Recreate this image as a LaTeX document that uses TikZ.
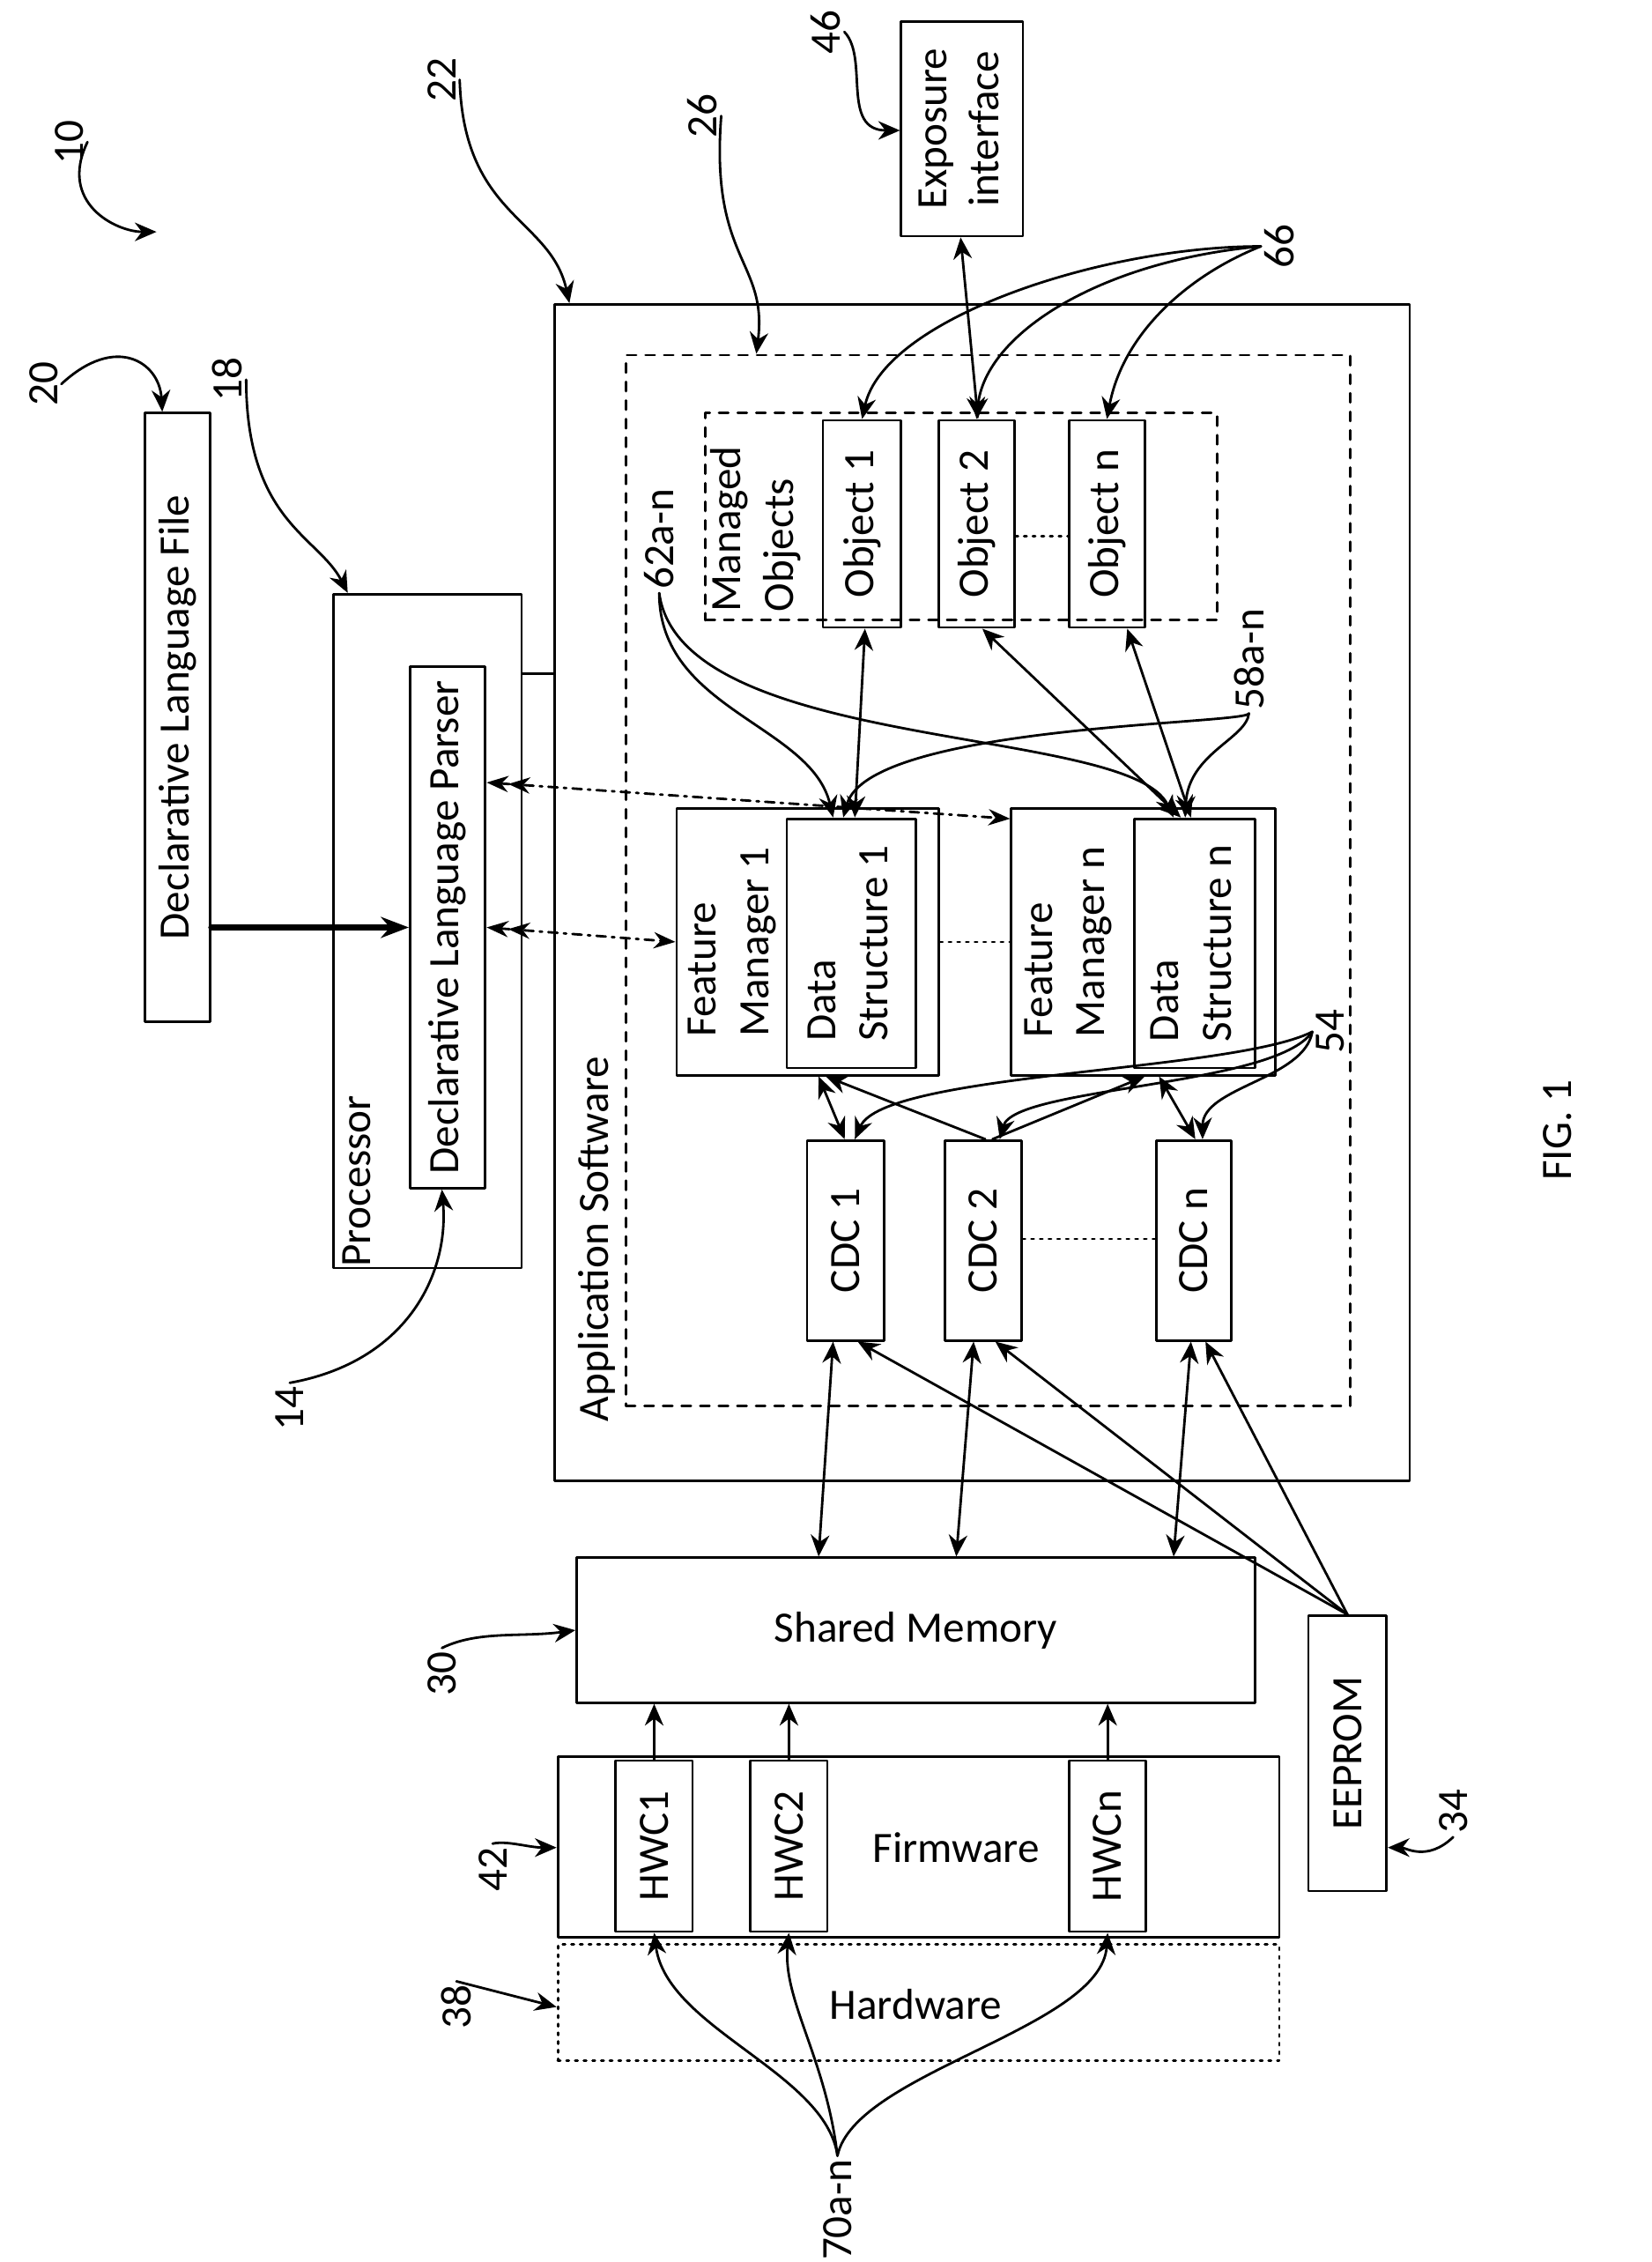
\documentclass[tikz,border=0pt]{standalone}
\usepackage{fontspec}
\setmainfont{Carlito}
\usetikzlibrary{arrows.meta,calc}
\tikzset{
  box/.style={draw,thick,inner sep=0pt,font=\fontsize{14}{17}\selectfont},
  lbl/.style={font=\fontsize{14}{17}\selectfont,inner sep=1pt},
  arr/.style={thick,-{Stealth[length=7pt,width=6pt]}},
  darr/.style={thick,{Stealth[length=7pt,width=6pt]}-{Stealth[length=7pt,width=6pt]}},
  dots/.style={thick,dotted},
}
% box from corner to corner, text turned
\newcommand\rbox[7][]{\node[box,#1,minimum width={(#5-#3)*0.01645cm},minimum height={(#6-#4)*0.01645cm}] (#2) at ({(#3+#5)/2},{(#4+#6)/2}) {\rotatebox{90}{#7}};}
\newcommand\flatbox[7][]{\node[box,#1,minimum width={(#5-#3)*0.01645cm},minimum height={(#6-#4)*0.01645cm}] (#2) at ({(#3+#5)/2},{(#4+#6)/2}) {#7};}
\newcommand\rt[1]{\rotatebox{90}{#1}}
\begin{document}
\begin{tikzpicture}[x=0.01645cm,y=-0.01645cm,line join=round,line cap=round]
\useasboundingbox (0,0) rectangle (1140,1561);
% boxes
\rbox{dlf}{100}{285}{145}{705}{Declarative Language File}
\rbox{proc}{230}{410}{360}{875}{}
\rbox{dlp}{283}{460}{335}{820}{Declarative Language Parser}
\node[lbl] (proclbl) at (246,815) {\rt{Processor}};
\rbox{app}{383}{210}{973}{1022}{}
\node[lbl] (applbl) at (412,855) {\rt{Application Software}};
\rbox[dashed]{inner}{432}{245}{932}{970}{}
\rbox[dashed]{mo}{487}{285}{840}{428}{}
\node[lbl] (molbl) at (522,365) {\rt{\begin{tabular}{@{}l@{}}Managed\\Objects\end{tabular}}};
\rbox{obj1}{568}{290}{622}{433}{Object 1}
\rbox{obj2}{648}{290}{700}{433}{Object 2}
\rbox{objn}{738}{290}{790}{433}{Object n}
\rbox{fm1}{467}{558}{648}{742}{}
\rbox{ds1}{543}{565}{632}{737}{\begin{tabular}{@{}l@{}}Data\\Structure 1\end{tabular}}
\node[lbl] (fm1lbl) at (505,650) {\rt{\begin{tabular}{@{}l@{}}Feature\\Manager 1\end{tabular}}};
\rbox{fmn}{698}{558}{880}{742}{}
\rbox{dsn}{783}{565}{866}{737}{\begin{tabular}{@{}l@{}}Data\\Structure n\end{tabular}}
\node[lbl] (fmnlbl) at (737,650) {\rt{\begin{tabular}{@{}l@{}}Feature\\Manager n\end{tabular}}};
\rbox{cdc1}{557}{787}{610}{925}{CDC 1}
\rbox{cdc2}{652}{787}{705}{925}{CDC 2}
\rbox{cdcn}{798}{787}{850}{925}{CDC n}
\flatbox{shm}{398}{1075}{866}{1175}{Shared Memory}
\rbox{fw}{385}{1212}{883}{1337}{}
\node[lbl] (fwlbl) at (660,1275) {Firmware};
\rbox[dotted]{hw}{385}{1342}{883}{1422}{}
\node[lbl] (hwlbl) at (632,1383) {Hardware};
\rbox{hwc1}{425}{1215}{478}{1333}{HWC1}
\rbox{hwc2}{518}{1215}{571}{1333}{HWC2}
\rbox{hwcn}{738}{1215}{791}{1333}{HWCn}
\rbox{eep}{903}{1115}{957}{1305}{EEPROM}
\rbox{expo}{622}{15}{706}{163}{\begin{tabular}{@{}c@{}}Exposure\\interface\end{tabular}}
% links
\draw[line width=2pt,-{Stealth[length=9pt]}] (dlf.east|-0,640) -- (dlp.west|-0,640);
\draw[thick] (proc.east|-0,465) -- (app.west|-0,465);
\draw[darr] (expo.south-|663,0) -- (obj2.north-|675,0);
\draw[darr] (obj1.south-|597,0) -- (ds1.north-|590,0);
\draw[darr] (obj2.south-|678,0) -- (dsn.north-|815,0);
\draw[darr] (objn.south-|778,0) -- (dsn.north-|822,0);
\draw[darr] (cdc1.north-|583,0) -- (fm1.south-|565,0);
\draw[arr] (cdc2.north-|680,0) -- (fm1.south-|570,0);
\draw[arr] (cdc2.north-|685,0) -- (fmn.south-|790,0);
\draw[darr] (cdcn.north-|825,0) -- (fmn.south-|800,0);
\draw[darr] (shm.north-|565,0) -- (cdc1.south-|575,0);
\draw[darr] (shm.north-|660,0) -- (cdc2.south-|672,0);
\draw[darr] (shm.north-|810,0) -- (cdcn.south-|822,0);
\draw[arr] (eep.north-|930,0) -- (cdc1.south-|592,0);
\draw[arr] (eep.north-|930,0) -- (cdc2.south-|687,0);
\draw[arr] (eep.north-|930,0) -- (cdcn.south-|832,0);
\draw[arr] (hwc1.north) -- (hwc1.north|-shm.south);
\draw[arr] (hwc2.north) -- (hwc2.north|-shm.south);
\draw[arr] (hwcn.north) -- (hwcn.north|-shm.south);
\draw[thick,dash dot,{Stealth[length=7pt]Stealth[length=7pt]}-{Stealth[length=7pt]}] (dlp.east|-0,540) -- (fmn.west|-0,565);
\draw[thick,dash dot,{Stealth[length=7pt]Stealth[length=7pt]}-{Stealth[length=7pt]}] (dlp.east|-0,640) -- (fm1.west|-0,650);
% dotted joins
\draw[dots] (obj2.east|-0,370) -- (objn.west|-0,370);
\draw[dots] (fm1.east|-0,650) -- (fmn.west|-0,650);
\draw[dots] (cdc2.east|-0,855) -- (cdcn.west|-0,855);
% numerals
\node[lbl] (n70) at (578,1525) {\rt{70a-n}};
\draw[arr] (n70.north) .. controls (570,1430) and (460,1400) .. (hwc1.south);
\draw[arr] (n70.north) .. controls (570,1420) and (540,1380) .. (hwc2.south);
\draw[arr] (n70.north) .. controls (590,1430) and (760,1400) .. (hwcn.south);
\node[lbl] (n66) at (883,170) {\rt{66}};
\draw[arr] (n66.west) .. controls (760,170) and (610,220) .. (obj1.north);
\draw[arr] (n66.west) .. controls (760,180) and (680,230) .. (obj2.north);
\draw[arr] (n66.west) .. controls (820,190) and (775,230) .. (objn.north);
\node[lbl] (n62) at (455,372) {\rt{62a-n}};
\node[lbl] (n58) at (862,455) {\rt{58a-n}};
\draw[arr] (n62.south) .. controls (455,490) and (560,500) .. (ds1.north-|575,0);
\draw[arr] (n62.south) .. controls (470,520) and (780,500) .. (dsn.north-|810,0);
\draw[arr] (n58.south) .. controls (860,500) and (600,500) .. (ds1.north-|582,0);
\draw[arr] (n58.south) .. controls (860,510) and (820,520) .. (dsn.north-|818,0);
\node[lbl] (n54) at (918,712) {\rt{54}};
\draw[arr] (n54.west) .. controls (850,740) and (610,740) .. (cdc1.north-|590,0);
\draw[arr] (n54.west) .. controls (880,750) and (700,750) .. (cdc2.north-|690,0);
\draw[arr] (n54.west) .. controls (900,745) and (830,750) .. (cdcn.north-|830,0);
\node[lbl] (n10) at (48,98) {\rt{10}};
\draw[arr] (n10.east) .. controls (40,140) and (80,160) .. (108,160);
\node[lbl] (n20) at (30,265) {\rt{20}};
\draw[arr] (n20.east) .. controls (80,230) and (110,250) .. (dlf.north-|112,0);
\node[lbl] (n18) at (157,262) {\rt{18}};
\draw[arr] (n18.east) .. controls (170,360) and (220,370) .. (proc.north-|240,0);
\node[lbl] (n22) at (305,55) {\rt{22}};
\draw[arr] (n22.east) .. controls (320,150) and (380,150) .. (app.north-|393,0);
\node[lbl] (n26) at (485,80) {\rt{26}};
\draw[arr] (n26.east) .. controls (490,180) and (530,180) .. (inner.north-|522,0);
\node[lbl] (n46) at (570,22) {\rt{46}};
\draw[arr] (n46.east) .. controls (600,40) and (580,90) .. (expo.west|-0,90);
\node[lbl] (n14) at (200,972) {\rt{14}};
\draw[arr] (n14.north) .. controls (280,940) and (310,880) .. (dlp.south-|305,0);
\node[lbl] (n30) at (305,1155) {\rt{30}};
\draw[arr] (n30.north) .. controls (330,1125) and (360,1130) .. (shm.west|-0,1125);
\node[lbl] (n42) at (340,1290) {\rt{42}};
\draw[arr] (n42.north) .. controls (350,1270) and (365,1275) .. (fw.west|-0,1275);
\node[lbl] (n38) at (315,1385) {\rt{38}};
\draw[arr] (n38.north) -- (hw.west|-0,1385);
\node[lbl] (n34) at (1003,1250) {\rt{34}};
\draw[arr] (n34.south) .. controls (985,1285) and (970,1275) .. (eep.east|-0,1275);
\node[lbl] (fig) at (1075,780) {\rt{FIG. 1}};
\end{tikzpicture}
\end{document}
